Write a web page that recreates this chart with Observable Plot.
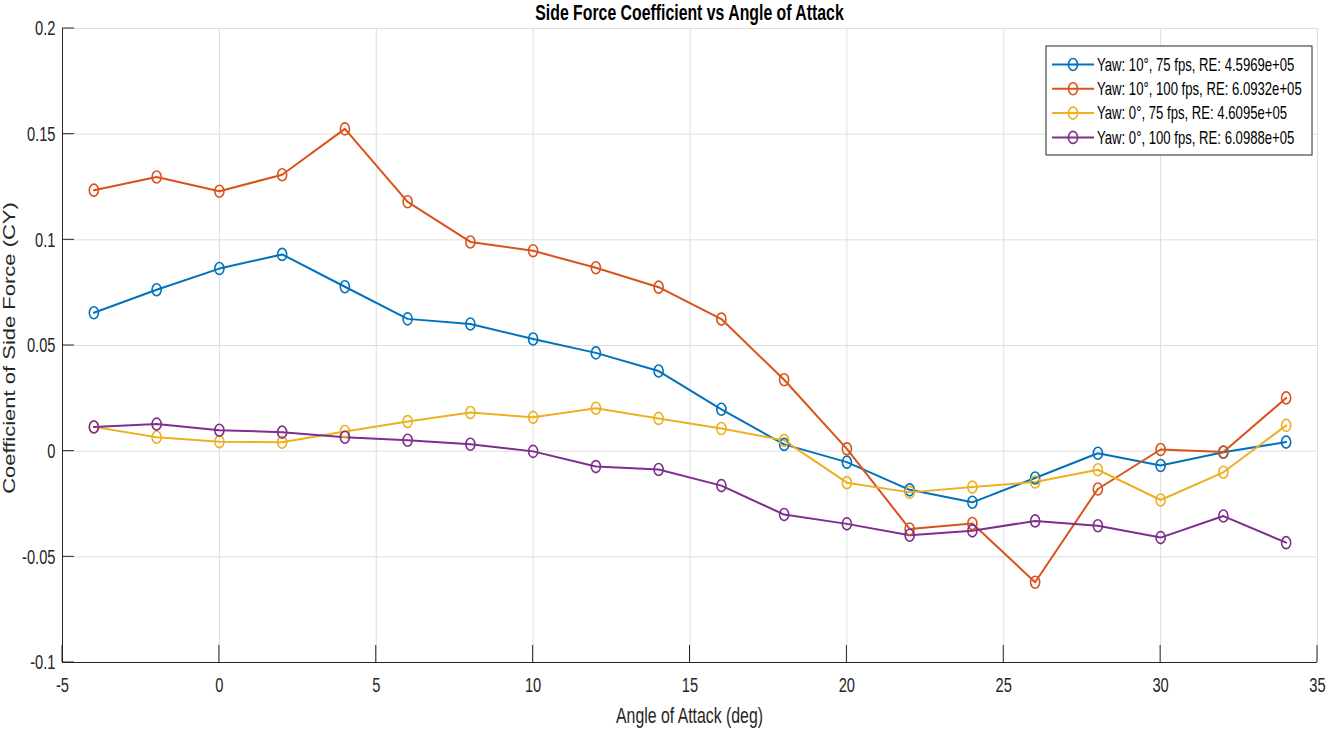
<!DOCTYPE html>
<html><head><meta charset="utf-8">
<script src="https://cdn.jsdelivr.net/npm/d3@7"></script>
<script src="https://cdn.jsdelivr.net/npm/@observablehq/plot@0.6"></script>
<style>body{margin:0;background:#fff;} svg{display:block}</style>
</head><body><div id="chart"></div>
<script>
// ---- data ----
const angles = [-4,-2,0,2,4,6,8,10,12,14,16,18,20,22,24,26,28,30,32,34];
const cyYaw10v75  = [0.0655,0.0764,0.0864,0.0931,0.0778,0.0626,0.0602,0.0531,0.0465,0.0379,0.0198,0.0032,-0.0052,-0.0183,-0.0242,-0.0127,-0.0010,-0.0068,-0.0005,0.0043];
const cyYaw10v100 = [0.1235,0.1297,0.1230,0.1308,0.1525,0.1180,0.0990,0.0948,0.0868,0.0776,0.0625,0.0338,0.0011,-0.0368,-0.0342,-0.0620,-0.0179,0.0008,-0.0004,0.0252];
const cyYaw0v75   = [0.0115,0.0066,0.0045,0.0042,0.0093,0.0140,0.0183,0.0160,0.0203,0.0155,0.0107,0.0051,-0.0149,-0.0195,-0.0170,-0.0146,-0.0088,-0.0231,-0.0100,0.0122];
const cyYaw0v100  = [0.0114,0.0128,0.0099,0.0090,0.0066,0.0052,0.0033,-0.0001,-0.0073,-0.0087,-0.0163,-0.0300,-0.0344,-0.0398,-0.0377,-0.0330,-0.0353,-0.0409,-0.0307,-0.0433];
const seriesNames = [
  "Yaw: 10°, 75 fps, RE: 4.5969e+05",
  "Yaw: 10°, 100 fps, RE: 6.0932e+05",
  "Yaw: 0°, 75 fps, RE: 4.6095e+05",
  "Yaw: 0°, 100 fps, RE: 6.0988e+05"
];
const seriesColors = ["#0072BD","#D95319","#EDB120","#7E2F8E"];
const xTicks = [-5,0,5,10,15,20,25,30,35];
const xTickLabels = ["-5","0","5","10","15","20","25","30","35"];
const yTicks = [-0.1,-0.05,0,0.05,0.1,0.15,0.2];
const yTickLabels = ["-0.1","-0.05","0","0.05","0.1","0.15","0.2"];
const titleText = "Side Force Coefficient vs Angle of Attack";
const xLabelText = "Angle of Attack (deg)";
const yLabelText = "Coefficient of Side Force (CY)";

// ---- table ----
const seriesValues = [cyYaw10v75, cyYaw10v100, cyYaw0v75, cyYaw0v100];
const rows = [];
seriesValues.forEach((vals, i) => vals.forEach((v, j) => rows.push({series: seriesNames[i], angle: angles[j], cy: v})));

// open ellipse marker (reference is slightly taller than wide)
const ellipseSymbol = {
  draw(ctx, size) {
    const r = Math.sqrt(size / Math.PI), ry = r, rx = r * 0.76, k = 0.5523;
    ctx.moveTo(rx, 0);
    ctx.bezierCurveTo(rx, ry*k, rx*k, ry, 0, ry);
    ctx.bezierCurveTo(-rx*k, ry, -rx, ry*k, -rx, 0);
    ctx.bezierCurveTo(-rx, -ry*k, -rx*k, -ry, 0, -ry);
    ctx.bezierCurveTo(rx*k, -ry, rx, -ry*k, rx, 0);
    ctx.closePath();
  }
};

const FONT = "'Liberation Sans', Arial, Helvetica, sans-serif";
const INK = "#262626";
const GRID = "#dedede";

const plot = Plot.plot({
  width: 1328, height: 730,
  marginLeft: 62, marginRight: 11, marginTop: 28, marginBottom: 68,
  style: {fontFamily: FONT, color: INK, background: "#fff"},
  x: {domain: [-5, 35]},
  y: {domain: [-0.1, 0.2]},
  color: {domain: seriesNames, range: seriesColors},
  marks: [
    Plot.gridX(xTicks, {stroke: GRID, strokeOpacity: 1}),
    Plot.gridY(yTicks, {stroke: GRID, strokeOpacity: 1}),
    Plot.axisX(xTicks, {tickSize: 0, tickPadding: 15, tickFormat: (d, i) => xTickLabels[i], fontSize: 21, label: null, fill: INK}),
    Plot.axisY(yTicks, {tickSize: 0, tickPadding: 7, tickFormat: (d, i) => yTickLabels[i], fontSize: 21, label: null, fill: INK}),
    Plot.ruleX([-5], {stroke: INK, strokeWidth: 1}),
    Plot.ruleY([-0.1], {stroke: INK, strokeWidth: 1}),
    Plot.line(rows, {x: "angle", y: "cy", z: "series", stroke: "series", strokeWidth: 2}),
    Plot.dot(rows, {x: "angle", y: "cy", stroke: "series", fill: "none", r: 6, symbol: ellipseSymbol, strokeWidth: 1.6})
  ]
});
document.getElementById("chart").appendChild(plot);

const svg = d3.select(plot);
const sx = plot.scale("x"), sy = plot.scale("y");
const x0 = sx.apply(-5), x1 = sx.apply(35), yb = sy.apply(-0.1), yt = sy.apply(0.2);

// horizontal squeeze of text (around its anchor) to mimic the condensed reference rendering
function squeeze(el, s) {
  const b = el.getBBox();
  const anchor = getComputedStyle(el).textAnchor;
  const ax = anchor === "end" ? b.x + b.width : anchor === "middle" ? b.x + b.width / 2 : b.x;
  const t = el.getAttribute("transform");
  el.setAttribute("transform", (t ? t + " " : "") + `translate(${ax},0) scale(${s},1) translate(${-ax},0)`);
}
plot.querySelectorAll('g[aria-label$="tick label"] text').forEach(t => squeeze(t, 0.7));

// inward ticks
const tickG = svg.append("g").attr("stroke", INK).attr("stroke-width", 1);
xTicks.forEach(v => tickG.append("line").attr("x1", sx.apply(v)).attr("x2", sx.apply(v)).attr("y1", yb).attr("y2", yb - 17));
yTicks.forEach(v => tickG.append("line").attr("x1", x0).attr("x2", x0 + 12).attr("y1", sy.apply(v)).attr("y2", sy.apply(v)));

// title & axis labels
const cx = (x0 + x1) / 2;
svg.append("text").text(titleText).attr("font-family", FONT).attr("font-weight", "bold").attr("font-size", 22)
  .attr("fill", "#000").attr("text-anchor", "middle").attr("transform", `translate(${cx},20) scale(0.72,1)`);
svg.append("text").text(xLabelText).attr("font-family", FONT).attr("font-size", 22)
  .attr("fill", INK).attr("text-anchor", "middle").attr("transform", `translate(${cx},723) scale(0.72,1)`);
svg.append("text").text(yLabelText).attr("font-family", FONT).attr("font-size", 22)
  .attr("fill", INK).attr("text-anchor", "middle").attr("transform", `translate(15,${(yb + yt) / 2 + 3}) rotate(-90) scale(1,0.72)`);

// legend
const lg = svg.append("g");
const lx = 1046, ly = 46, lw = 266, lh = 109, rowGap = 24.3, row0 = 64.5;
lg.append("rect").attr("x", lx).attr("y", ly).attr("width", lw).attr("height", lh).attr("fill", "#fff").attr("stroke", INK).attr("stroke-width", 1);
seriesNames.forEach((name, i) => {
  const yy = row0 + i * rowGap;
  lg.append("line").attr("x1", 1052).attr("x2", 1094).attr("y1", yy).attr("y2", yy).attr("stroke", seriesColors[i]).attr("stroke-width", 2);
  lg.append("path").attr("d", d3.symbol(ellipseSymbol, Math.PI * 36)()).attr("transform", `translate(1073,${yy})`)
    .attr("fill", "none").attr("stroke", seriesColors[i]).attr("stroke-width", 1.6);
  lg.append("text").text(name).attr("font-family", FONT).attr("font-size", 18).attr("fill", "#000")
    .attr("text-anchor", "start").attr("dy", "0.35em").attr("transform", `translate(1097,${yy}) scale(0.73,1)`);
});
</script>
</body></html>
